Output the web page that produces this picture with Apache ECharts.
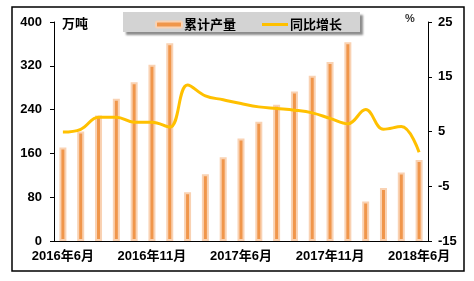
<!DOCTYPE html>
<html><head><meta charset="utf-8">
<script src="https://cdn.jsdelivr.net/npm/echarts@6/dist/echarts.min.js"></script>
<style>html,body{margin:0;padding:0;background:#fff}#c{width:474px;height:281px}</style>
</head><body><div id="c"></div>
<script>
const categories = ["2016年6月","2016年7月","2016年8月","2016年9月","2016年10月","2016年11月","2016年12月",
  "2017年3月","2017年4月","2017年5月","2017年6月","2017年7月","2017年8月","2017年9月","2017年10月","2017年11月","2017年12月",
  "2018年3月","2018年4月","2018年5月","2018年6月"];
const output = [171,200,229,260,290,322,361,89,122,153,187,218,249,273,302,327,363,72,97,125,148];
const growth = [4.9,5.4,7.6,7.6,6.7,6.7,5.8,13.5,11.5,10.8,10.1,9.5,9.2,8.9,8.4,7.4,6.4,9.0,5.4,5.9,1.2];
const leftTicks = [0,80,160,240,320,400];
const rightTicks = [-15,-5,5,15,25];

const FF = 'Arial, "Liberation Sans", "Noto Sans CJK SC", sans-serif';
const chart = echarts.init(document.getElementById('c'), null, {renderer:'canvas'});
chart.setOption({
  animation:false,
  grid:{left:54,right:46,top:22,bottom:40},
  graphic:[
    {type:'rect',shape:{x:12,y:7,width:452,height:264},style:{fill:'none',stroke:'#000',lineWidth:1.5},z:-1},
    {type:'rect',shape:{x:123,y:12,width:237,height:20},style:{fill:'#D3D3D3',shadowBlur:2,shadowOffsetX:3,shadowOffsetY:3,shadowColor:'rgba(0,0,0,0.45)'},z:5},
    {type:'text',left:62,top:17,style:{text:'万吨',font:'bold 13px "Noto Sans CJK SC", sans-serif',fill:'#000'},z:10},
    {type:'text',left:405,top:13,style:{text:'%',font:'bold 11px Arial, "Liberation Sans", sans-serif',fill:'#333'},z:10}
  ],
  legend:{
    left:150, top:13, itemGap:26, itemWidth:26, itemHeight:6, z:20,
    textStyle:{fontFamily:'"Noto Sans CJK SC", sans-serif',fontWeight:'bold',fontSize:13,color:'#000',padding:[0,0,0,-3]},
    data:[{name:'累计产量'},
          {name:'同比增长',icon:'path://M0,0L26,0L26,3L0,3Z',itemStyle:{color:'#FFC000',borderWidth:0}}]
  },
  xAxis:{
    type:'category', data:categories, boundaryGap:true,
    axisLine:{lineStyle:{color:'#000',width:1}},
    axisTick:{inside:true,length:3,interval:0,lineStyle:{color:'#000'}},
    axisLabel:{interval:4,margin:9,fontFamily:FF,fontWeight:'bold',fontSize:13,color:'#000'}
  },
  yAxis:[
    {type:'value',min:0,max:400,interval:80,splitLine:{show:false},
     axisLine:{show:true,lineStyle:{color:'#000'}},axisTick:{show:true,length:4,lineStyle:{color:'#000'}},
     axisLabel:{margin:12,fontFamily:FF,fontWeight:'bold',fontSize:13,color:'#000'}},
    {type:'value',min:-15,max:25,interval:10,splitLine:{show:false},
     axisLine:{show:true,lineStyle:{color:'#000'}},axisTick:{show:true,length:4,lineStyle:{color:'#000'}},
     axisLabel:{margin:10,fontFamily:FF,fontWeight:'bold',fontSize:13,color:'#000'}}
  ],
  series:[
    {name:'累计产量',type:'bar',data:output,barWidth:7,
     itemStyle:{color:'#F0964B',borderColor:'#F9D2B3',borderWidth:2}},
    {name:'同比增长',type:'line',yAxisIndex:1,data:growth,smooth:0.4,symbol:'none',
     lineStyle:{color:'#FFC000',width:3},itemStyle:{color:'#FFC000'}}
  ]
});
</script></body></html>
